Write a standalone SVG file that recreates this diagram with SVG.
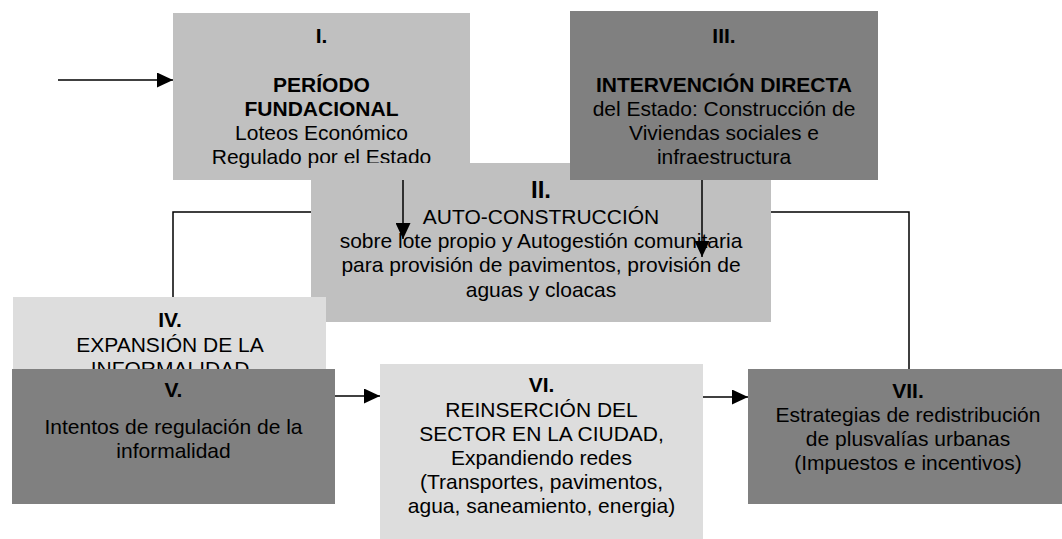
<svg xmlns="http://www.w3.org/2000/svg" width="1062" height="539" viewBox="0 0 1062 539">
  <defs>
    <style>
      .t { font-family: "Liberation Sans", Arial, sans-serif; font-size: 21px; fill: #000; text-anchor: middle; }
      .b { font-weight: bold; }
      .big { font-size: 24px; }
      .light { fill: #c0c0c0; }
      .dark { fill: #808080; }
      .pale { fill: #dddddd; }
      .con { fill: none; stroke: #000; stroke-width: 1.5; }
    </style>
    <marker id="arr" markerUnits="userSpaceOnUse" markerWidth="16" markerHeight="15" refX="16" refY="7.5" orient="auto">
      <path d="M0,0 L16,7.5 L0,15 Z" fill="#000"/>
    </marker>
  </defs>
  <rect width="1062" height="539" fill="#ffffff"/>

  <g id="node-I">
    <rect class="light" x="173" y="13" width="297" height="167"/>
    <text class="t b" x="321.5" y="43">I.</text>
    <text class="t b" x="321.5" y="92">PERÍODO</text>
    <text class="t b" x="321.5" y="116">FUNDACIONAL</text>
    <text class="t" x="321.5" y="140">Loteos Económico</text>
    <text class="t" x="321.5" y="164">Regulado por el Estado</text>
  </g>

  <g id="node-II">
    <rect class="light" x="311" y="163" width="460" height="159"/>
    <text class="t b big" x="541" y="198">II.</text>
    <text class="t" x="541" y="224">AUTO-CONSTRUCCIÓN</text>
    <text class="t" x="541" y="248">sobre lote propio y Autogestión comunitaria</text>
    <text class="t" x="541" y="272">para provisión de pavimentos, provisión de</text>
    <text class="t" x="541" y="297">aguas y cloacas</text>
  </g>

  <g id="node-III">
    <rect class="dark" x="570" y="11" width="308" height="169"/>
    <text class="t b" x="724" y="43">III.</text>
    <text class="t b" x="724" y="92">INTERVENCIÓN DIRECTA</text>
    <text class="t" x="724" y="116">del Estado: Construcción de</text>
    <text class="t" x="724" y="140">Viviendas sociales e</text>
    <text class="t" x="724" y="164">infraestructura</text>
  </g>

  <g id="node-IV">
    <rect class="pale" x="13" y="297" width="313" height="110"/>
    <text class="t b" x="170" y="327">IV.</text>
    <text class="t" x="170" y="352">EXPANSIÓN DE LA</text>
    <text class="t" x="170" y="376">INFORMALIDAD</text>
  </g>

  <g id="node-V">
    <rect class="dark" x="12" y="369" width="323" height="135"/>
    <text class="t b" x="173.5" y="397">V.</text>
    <text class="t" x="173.5" y="434">Intentos de regulación de la</text>
    <text class="t" x="173.5" y="458">informalidad</text>
  </g>

  <g id="node-VI">
    <rect class="pale" x="380" y="364" width="323" height="180"/>
    <text class="t b" x="541.5" y="392">VI.</text>
    <text class="t" x="541.5" y="417">REINSERCIÓN DEL</text>
    <text class="t" x="541.5" y="441">SECTOR EN LA CIUDAD,</text>
    <text class="t" x="541.5" y="465">Expandiendo redes</text>
    <text class="t" x="541.5" y="489">(Transportes, pavimentos,</text>
    <text class="t" x="541.5" y="513">agua, saneamiento, energia)</text>
  </g>

  <g id="node-VII">
    <rect class="dark" x="748" y="369" width="322" height="135"/>
    <text class="t b" x="908" y="398">VII.</text>
    <text class="t" x="908" y="422">Estrategias de redistribución</text>
    <text class="t" x="908" y="446">de plusvalías urbanas</text>
    <text class="t" x="908" y="470">(Impuestos e incentivos)</text>
  </g>

  <g id="connectors">
    <line class="con" x1="58" y1="80" x2="173" y2="80" marker-end="url(#arr)"/>
    <line class="con" x1="403" y1="180" x2="403" y2="239" marker-end="url(#arr)"/>
    <line class="con" x1="702" y1="180" x2="702" y2="257" marker-end="url(#arr)"/>
    <polyline class="con" points="311,212 173,212 173,297"/>
    <polyline class="con" points="771,212 909,212 909,369"/>
    <line class="con" x1="335" y1="396" x2="380" y2="396" marker-end="url(#arr)"/>
    <line class="con" x1="703" y1="397" x2="748" y2="397" marker-end="url(#arr)"/>
  </g>
</svg>
